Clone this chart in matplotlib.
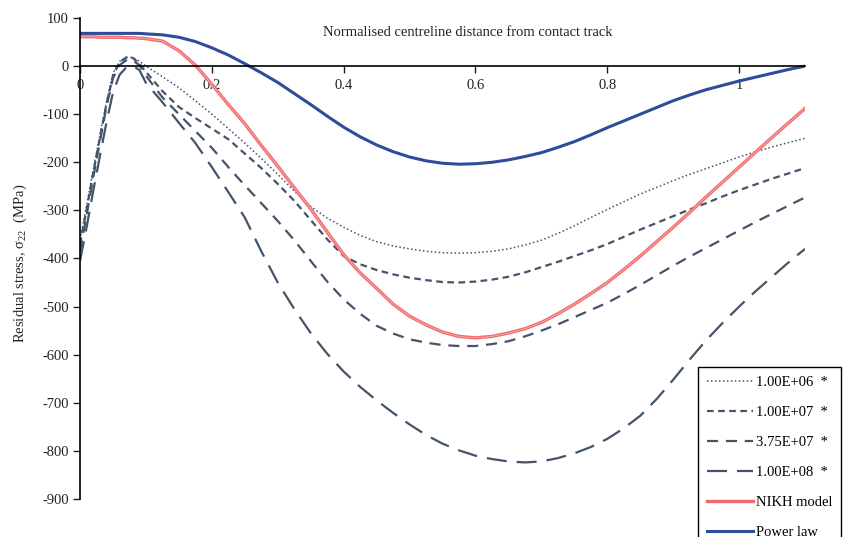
#residual stress vs normalised centreline distance
import numpy as np
import matplotlib.pyplot as plt
from matplotlib.ticker import FixedLocator, FixedFormatter

plt.rcParams['font.family'] = ['Liberation Serif', 'DejaVu Serif']
plt.rcParams['mathtext.fontset'] = 'stix'
plt.rcParams['axes.unicode_minus'] = False

# Normalised distance (shared by all series)
distance = [0, 0.01, 0.02, 0.03, 0.04, 0.05, 0.06, 0.07, 0.08, 0.09, 0.1,
            0.125, 0.15, 0.175, 0.2, 0.225, 0.25, 0.275, 0.3, 0.325, 0.35, 0.375, 0.4,
            0.425, 0.45, 0.475, 0.5, 0.525, 0.55, 0.575, 0.6, 0.625, 0.65, 0.675, 0.7,
            0.725, 0.75, 0.775, 0.8, 0.825, 0.85, 0.875, 0.9, 0.925, 0.95, 0.975, 1.0,
            1.025, 1.05, 1.075, 1.1]

# Residual stress (MPa)
cycles_1e6 = [-360, -290, -215, -145, -75, -15, 10, 18, 18, 10, 0,
              -22, -45, -72, -100, -130, -160, -192, -225, -260, -292, -316, -335,
              -352, -365, -374, -380, -385, -388, -389, -388, -385, -380, -372, -362,
              -348, -332, -315, -298, -282, -266, -252, -238, -225, -213, -201, -189,
              -178, -168, -159, -150]
cycles_1e7 = [-370, -298, -222, -150, -80, -20, 8, 18, 17, 5, -12,
              -52, -85, -108, -130, -152, -182, -212, -245, -280, -320, -360, -395,
              -412, -424, -433, -440, -445, -449, -450, -448, -444, -438, -429, -418,
              -407, -395, -383, -370, -355, -340, -326, -312, -298, -285, -271, -258,
              -246, -234, -223, -212]
cycles_375e7 = [-385, -310, -232, -158, -85, -25, 2, 12, 12, 2, -20,
                -65, -100, -135, -170, -210, -248, -285, -322, -362, -405, -448, -485,
                -515, -540, -556, -568, -575, -580, -582, -582, -578, -572, -562, -550,
                -537, -522, -507, -492, -474, -455, -435, -415, -396, -378, -360, -342,
                -324, -307, -290, -273]
cycles_1e8 = [-405, -335, -260, -188, -118, -55, -18, -3, 0, -8, -35,
              -75, -118, -160, -210, -262, -315, -385, -450, -505, -555, -598, -635,
              -667, -695, -721, -745, -767, -785, -799, -810, -817, -822, -824, -822,
              -815, -805, -792, -775, -753, -727, -692, -652, -610, -570, -534, -500,
              -468, -438, -408, -380]
nikh_model = [61, 61, 61, 60, 60, 60, 60, 59, 59, 58, 57,
              52, 32, 2, -38, -80, -120, -165, -208, -253, -297, -345, -392,
              -430, -462, -495, -520, -538, -553, -562, -565, -562, -555, -546, -533,
              -515, -495, -473, -450, -423, -395, -365, -335, -304, -272, -241, -210,
              -179, -148, -118, -88]
power_law = [68, 68, 68, 68, 68, 68, 68, 68, 68, 68, 67,
             65, 60, 51, 38, 23, 5, -14, -34, -57, -80, -104, -127,
             -147, -164, -178, -189, -197, -202, -204, -203, -200, -195, -188, -180,
             -169, -157, -143, -128, -114, -100, -86, -72, -60, -49, -40, -31,
             -23, -15, -7, 0]

x_ticks = [0, 0.2, 0.4, 0.6, 0.8, 1.0]
x_tick_labels = ['0', '0.2', '0.4', '0.6', '0.8', '1']
y_ticks = list(range(-900, 101, 100))

fig = plt.figure(figsize=(8.46, 5.37), dpi=100)
ax = fig.add_axes([0.0946, 0.0708, 0.857, 0.8957])

grey = '#44546A'
ax.plot(distance, cycles_1e6, color=grey, lw=1.1, ls=(0, (1, 1.6)), label='1.00E+06  *')
ax.plot(distance, cycles_1e7, color=grey, lw=1.6, ls=(0, (3, 2)), label='1.00E+07  *')
ax.plot(distance, cycles_375e7, color=grey, lw=1.6, ls=(0, (5, 3.5)), label='3.75E+07  *')
ax.plot(distance, cycles_1e8, color=grey, lw=1.6, ls=(0, (9, 4.5)), label='1.00E+08  *')
ax.plot(distance, nikh_model, color='#F26A6C', lw=2.4, label='NIKH model')
ax.plot(distance, nikh_model, color='#F9B7B8', lw=0.5)
ax.plot(distance, power_law, color='#2F4B9A', lw=2.2, label='Power law')

ax.set_xlim(0, 1.1)
ax.set_ylim(-900, 100)

# Axis through zero, no box
ax.spines['top'].set_visible(False)
ax.spines['right'].set_visible(False)
ax.spines['bottom'].set_position(('data', 0))
ax.spines['bottom'].set_linewidth(1.2)
ax.spines['left'].set_linewidth(1.2)

ax.xaxis.set_major_locator(FixedLocator(x_ticks))
ax.xaxis.set_major_formatter(FixedFormatter(x_tick_labels))
ax.set_yticks(y_ticks)
ax.tick_params(axis='both', direction='out', length=5, width=1, labelsize=10.5, colors='#222222')
ax.tick_params(axis='x', pad=4)
ax.tick_params(axis='y', pad=3)

# Titles
fig.text(0.553, 0.94, 'Normalised centreline distance from contact track',
         ha='center', va='center', fontsize=10.5, color='#222222')
fig.text(0.024, 0.51, r'Residual stress, $\mathregular{\sigma_{22}}$  (MPa)', rotation=90,
         ha='center', va='center', fontsize=10.5, color='#222222')

# Legend in lower right corner
leg = ax.legend(loc='upper left', bbox_to_anchor=(0.825, 0.317), bbox_transform=fig.transFigure,
                fontsize=10.5, frameon=True, fancybox=False, framealpha=1, edgecolor='black',
                handlelength=3.2, handletextpad=0.15, labelspacing=1.15, borderpad=0.6,
                borderaxespad=0)
leg.get_frame().set_linewidth(1)

plt.savefig('out.png', dpi=100)
